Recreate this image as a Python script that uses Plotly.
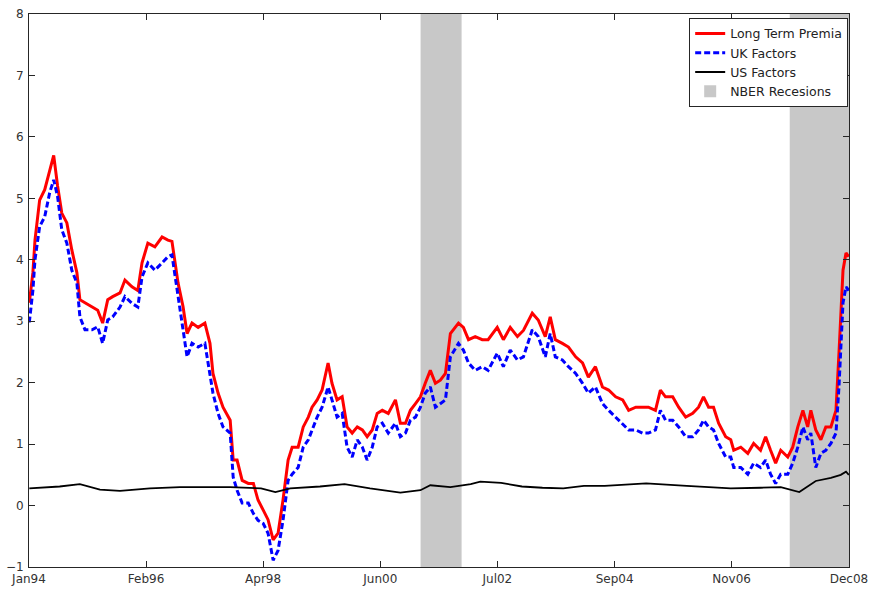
import plotly.graph_objects as go

# ---------------- data ----------------
dates = [
    "1994-01-03", "1994-01-07", "1994-01-27", "1994-02-10", "1994-03-13", "1994-04-16", "1994-05-19",
    "1994-06-15", "1994-07-11", "1994-08-08", "1994-09-11", "1994-10-14", "1994-11-17", "1994-12-07",
    "1995-01-10", "1995-02-26", "1995-04-05", "1995-05-08", "1995-06-11", "1995-07-14", "1995-09-01",
    "1995-10-04", "1995-11-20", "1995-12-29", "1996-01-26", "1996-03-05", "1996-04-21", "1996-06-08",
    "1996-07-17", "1996-08-13", "1996-09-23", "1996-10-26", "1996-11-22", "1996-12-25", "1997-02-04",
    "1997-03-21", "1997-04-24", "1997-05-14", "1997-06-17", "1997-07-20", "1997-09-06", "1997-09-26",
    "1997-10-22", "1997-11-25", "1998-01-05", "1998-02-08", "1998-03-11", "1998-04-14", "1998-05-17",
    "1998-06-20", "1998-07-23", "1998-08-25", "1998-09-28", "1998-10-25", "1998-12-04", "1999-01-07",
    "1999-02-10", "1999-03-07", "1999-04-10", "1999-05-13", "1999-06-22", "1999-07-18", "1999-08-21",
    "1999-09-24", "1999-10-27", "1999-11-30", "2000-01-03", "2000-02-06", "2000-03-09", "2000-04-12",
    "2000-05-15", "2000-06-18", "2000-07-28", "2000-09-14", "2000-10-17", "2000-11-20", "2000-12-23",
    "2001-01-26", "2001-02-28", "2001-04-01", "2001-05-05", "2001-06-08", "2001-07-11", "2001-08-14",
    "2001-09-16", "2001-11-09", "2001-12-12", "2002-01-15", "2002-03-01", "2002-04-17", "2002-05-26",
    "2002-07-26", "2002-09-05", "2002-10-21", "2002-12-08", "2003-01-17", "2003-03-17", "2003-04-26",
    "2003-06-12", "2003-07-15", "2003-08-18", "2003-10-04", "2003-11-14", "2004-01-01", "2004-02-16",
    "2004-03-26", "2004-05-12", "2004-06-28", "2004-08-08", "2004-09-24", "2004-11-10", "2004-12-20",
    "2005-02-06", "2005-03-22", "2005-05-01", "2005-06-17", "2005-07-20", "2005-08-23", "2005-10-10",
    "2005-11-19", "2006-01-05", "2006-02-21", "2006-04-01", "2006-05-04", "2006-06-07", "2006-07-10",
    "2006-08-13", "2006-09-29", "2006-11-02", "2006-11-22", "2007-01-08", "2007-02-24", "2007-04-04",
    "2007-05-20", "2007-06-23", "2007-07-26", "2007-08-29", "2007-10-02", "2007-11-18", "2007-12-21",
    "2008-01-24", "2008-02-27", "2008-03-30", "2008-04-20", "2008-05-23", "2008-06-26", "2008-07-29",
    "2008-09-01", "2008-10-05", "2008-10-25", "2008-11-21", "2008-12-11", "2008-12-30",
]

long_term_premia = [
    3.30, 3.40, 3.79, 4.32, 4.97, 5.14, 5.46,
    5.70, 5.20, 4.76, 4.60, 4.16, 3.79, 3.35,
    3.30, 3.24, 3.18, 2.97, 3.35, 3.40, 3.46,
    3.67, 3.56, 3.50, 3.95, 4.27, 4.21, 4.37,
    4.32, 4.30, 3.62, 3.24, 2.80, 2.97, 2.90,
    2.97, 2.64, 2.15, 1.83, 1.60, 1.39, 0.74,
    0.74, 0.41, 0.36, 0.36, 0.09, -0.07, -0.23,
    -0.56, -0.45, 0.09, 0.74, 0.95, 0.95, 1.28,
    1.44, 1.60, 1.72, 1.88, 2.32, 1.99, 1.72,
    1.77, 1.28, 1.18, 1.28, 1.23, 1.12, 1.23,
    1.50, 1.55, 1.50, 1.72, 1.34, 1.34, 1.55,
    1.66, 1.77, 1.99, 2.20, 1.99, 2.04, 2.15,
    2.80, 2.97, 2.90, 2.70, 2.75, 2.70, 2.70,
    2.90, 2.70, 2.90, 2.75, 2.85, 3.13, 3.02,
    2.75, 3.07, 2.70, 2.64, 2.58, 2.42, 2.32,
    2.09, 2.26, 1.93, 1.88, 1.77, 1.72, 1.55,
    1.60, 1.60, 1.60, 1.55, 1.88, 1.77, 1.77,
    1.60, 1.44, 1.50, 1.60, 1.77, 1.60, 1.60,
    1.34, 1.12, 1.07, 0.90, 0.95, 0.85, 1.01,
    0.90, 1.12, 0.90, 0.69, 0.90, 0.79, 0.95,
    1.28, 1.55, 1.28, 1.55, 1.23, 1.07, 1.28,
    1.28, 1.55, 2.48, 3.83, 4.11, 4.05,
]

uk_factors = [
    2.98, 3.07, 3.50, 4.00, 4.54, 4.70, 5.09,
    5.30, 5.03, 4.49, 4.27, 3.83, 3.62, 3.07,
    2.86, 2.86, 2.91, 2.64, 3.02, 3.07, 3.23,
    3.40, 3.29, 3.23, 3.72, 3.95, 3.83, 3.95,
    4.05, 4.08, 3.40, 2.91, 2.42, 2.64, 2.58,
    2.64, 2.15, 1.83, 1.50, 1.28, 1.18, 0.46,
    0.25, 0.04, 0.04, -0.13, -0.24, -0.29, -0.45,
    -0.89, -0.73, -0.24, 0.41, 0.51, 0.62, 0.95,
    1.07, 1.23, 1.44, 1.60, 1.93, 1.72, 1.44,
    1.50, 0.95, 0.79, 1.07, 0.95, 0.74, 0.95,
    1.28, 1.34, 1.18, 1.34, 1.12, 1.18, 1.39,
    1.44, 1.60, 1.83, 1.93, 1.60, 1.66, 1.72,
    2.42, 2.64, 2.53, 2.32, 2.20, 2.26, 2.20,
    2.48, 2.26, 2.53, 2.37, 2.42, 2.86, 2.75,
    2.42, 2.80, 2.42, 2.37, 2.26, 2.15, 1.99,
    1.83, 1.93, 1.66, 1.55, 1.44, 1.34, 1.23,
    1.23, 1.18, 1.18, 1.23, 1.55, 1.39, 1.39,
    1.28, 1.12, 1.12, 1.23, 1.39, 1.28, 1.23,
    1.01, 0.79, 0.79, 0.62, 0.62, 0.51, 0.69,
    0.62, 0.74, 0.51, 0.36, 0.51, 0.51, 0.69,
    0.95, 1.28, 1.07, 1.18, 0.62, 0.85, 0.90,
    1.01, 1.18, 1.93, 3.30, 3.56, 3.50,
]

us_dates = [
    "1994-01-03", "1994-07-25", "1994-12-07", "1995-04-20", "1995-09-01", "1996-03-19", "1996-10-06",
    "1997-02-25", "1997-09-06", "1998-03-31", "1998-07-05", "1998-10-12", "1999-03-01", "1999-04-29",
    "1999-10-10", "2000-03-28", "2000-10-17", "2001-02-28", "2001-05-05", "2001-09-16", "2002-01-30",
    "2002-04-04", "2002-08-21", "2003-01-07", "2003-05-24", "2003-10-10", "2004-02-25", "2004-07-13",
    "2004-11-29", "2005-04-16", "2006-01-12", "2006-08-11", "2006-11-02", "2007-05-20", "2007-10-02",
    "2008-02-03", "2008-03-21", "2008-05-23", "2008-09-01", "2008-11-06", "2008-12-11", "2008-12-30",
]
us_factors = [
    0.28, 0.31, 0.35, 0.26, 0.24, 0.28, 0.30,
    0.30, 0.30, 0.28, 0.22, 0.28, 0.30, 0.31,
    0.35, 0.28, 0.21, 0.25, 0.33, 0.30, 0.35,
    0.39, 0.37, 0.31, 0.29, 0.28, 0.32, 0.32,
    0.34, 0.36, 0.32, 0.30, 0.28, 0.29, 0.30,
    0.22, 0.30, 0.40, 0.45, 0.50, 0.55, 0.50,
]

recession_starts = ["2001-03-01", "2007-12-01"]
recession_ends = ["2001-11-30", "2008-12-31"]

tick_dates = ["1994-01-01", "1996-02-22", "1998-04-14", "2000-06-05", "2002-07-27",
              "2004-09-17", "2006-11-08", "2008-12-31"]
tick_labels = ["Jan94", "Feb96", "Apr98", "Jun00", "Jul02", "Sep04", "Nov06", "Dec08"]
y_ticks = [-1, 0, 1, 2, 3, 4, 5, 6, 7, 8]

# ---------------- figure ----------------
fig = go.Figure()
fig.add_trace(go.Scatter(x=dates, y=long_term_premia, mode="lines", name="Long Term Premia",
                         line=dict(color="#ff0000", width=3)))
fig.add_trace(go.Scatter(x=dates, y=uk_factors, mode="lines", name="UK Factors",
                         line=dict(color="#0000ff", width=3, dash="6px,3px")))
fig.add_trace(go.Scatter(x=us_dates, y=us_factors, mode="lines", name="US Factors",
                         line=dict(color="#000000", width=1.8)))

for i, (s, e) in enumerate(zip(recession_starts, recession_ends)):
    fig.add_shape(type="rect", xref="x", yref="paper", x0=s, x1=e, y0=0, y1=1,
                  fillcolor="#c8c8c8", line=dict(width=0), layer="below",
                  showlegend=(i == 0), name="NBER Recesions")

axis_common = dict(showline=True, linecolor="#262626", linewidth=1, mirror="ticks",
                   ticks="inside", ticklen=6, tickcolor="#262626", showgrid=False,
                   zeroline=False, automargin=False,
                   tickfont=dict(family="DejaVu Sans", size=12, color="#333333"))

fig.update_xaxes(range=["1994-01-01", "2008-12-31"], tickvals=tick_dates, ticktext=tick_labels,
                 ticklabelstandoff=1, **axis_common)
fig.update_yaxes(range=[-1, 8], tickvals=y_ticks, ticklabelstandoff=2, **axis_common)

fig.update_layout(
    width=871, height=589,
    margin=dict(l=29, r=22, t=14, b=22, autoexpand=False),
    plot_bgcolor="white", paper_bgcolor="white",
    font=dict(family="DejaVu Sans", size=12, color="#333333"),
    legend=dict(x=0.999, y=0.993, xanchor="right", yanchor="top",
                bgcolor="white", bordercolor="#262626", borderwidth=1,
                font=dict(family="DejaVu Sans", size=12.5, color="#222222"),
                tracegroupgap=0, itemwidth=30),
)

fig.write_html("out.html", config={"displayModeBar": False},
               post_script="document.body.style.margin='0';document.body.style.overflow='hidden';")
